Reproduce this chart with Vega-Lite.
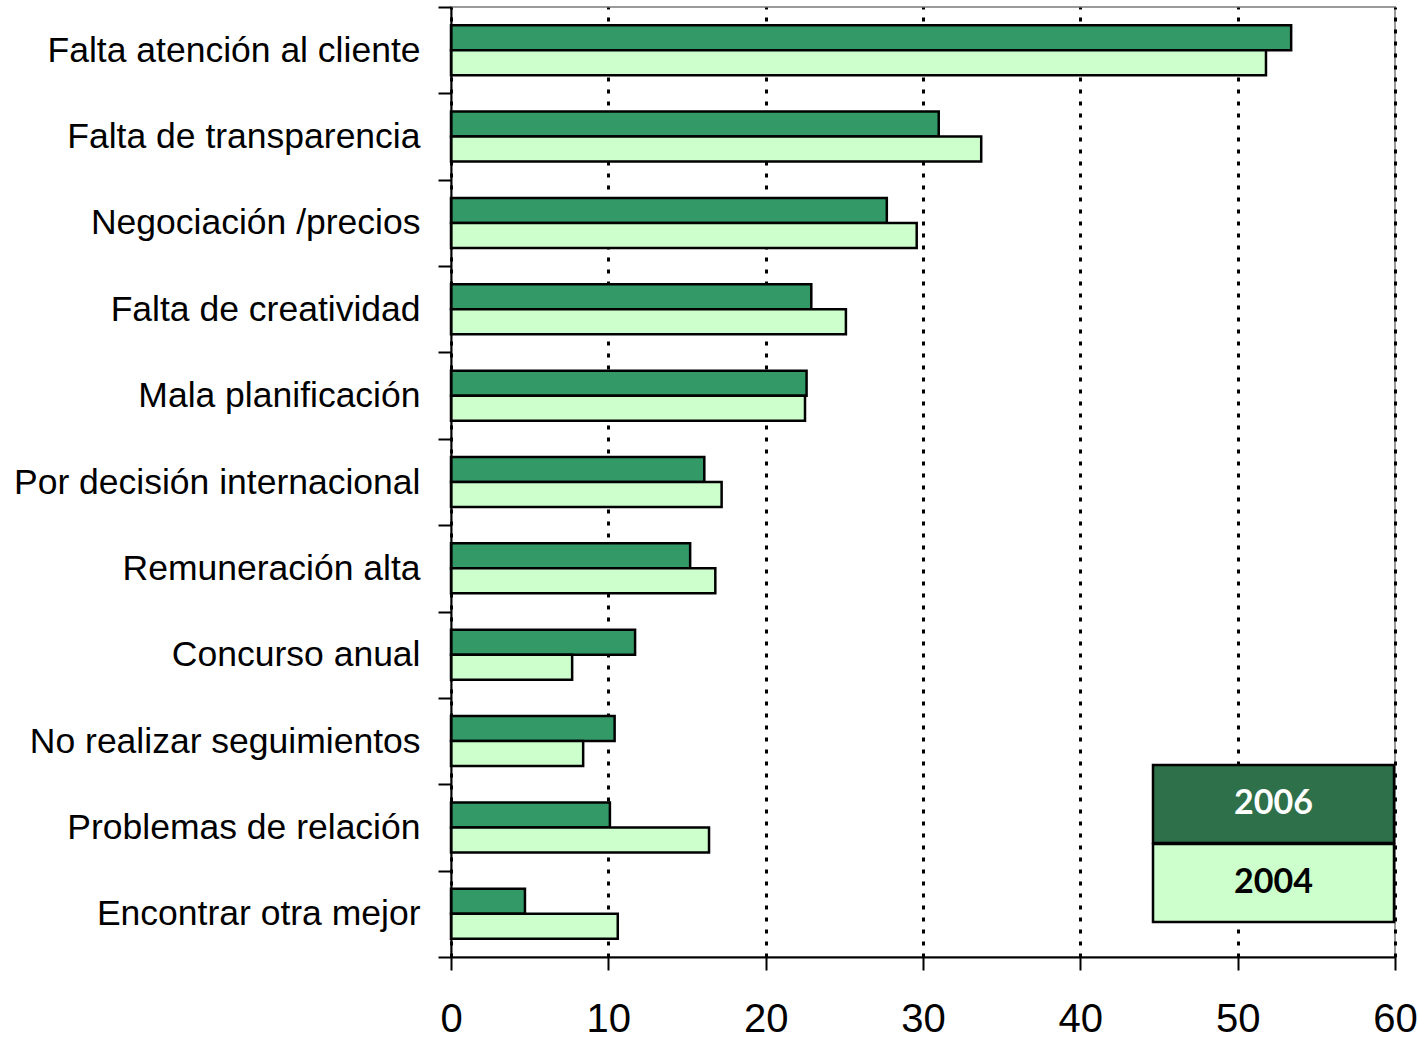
{
  "$schema": "https://vega.github.io/schema/vega-lite/v6.json",
  "width": 944,
  "height": 950,
  "autosize": {"type": "none"},
  "padding": {"left": 451, "top": 7, "right": 23, "bottom": 82},
  "background": "white",
  "config": {
    "view": {"stroke": "#9a9a9a", "strokeWidth": 2},
    "font": "Liberation Sans"
  },
  "data": {
    "values": [
      {"motivo": "Falta atención al cliente", "year": "2006", "value": 53.4},
      {"motivo": "Falta atención al cliente", "year": "2004", "value": 51.8},
      {"motivo": "Falta de transparencia", "year": "2006", "value": 31.0},
      {"motivo": "Falta de transparencia", "year": "2004", "value": 33.7},
      {"motivo": "Negociación /precios", "year": "2006", "value": 27.7},
      {"motivo": "Negociación /precios", "year": "2004", "value": 29.6},
      {"motivo": "Falta de creatividad", "year": "2006", "value": 22.9},
      {"motivo": "Falta de creatividad", "year": "2004", "value": 25.1},
      {"motivo": "Mala planificación", "year": "2006", "value": 22.6},
      {"motivo": "Mala planificación", "year": "2004", "value": 22.5},
      {"motivo": "Por decisión internacional", "year": "2006", "value": 16.1},
      {"motivo": "Por decisión internacional", "year": "2004", "value": 17.2},
      {"motivo": "Remuneración alta", "year": "2006", "value": 15.2},
      {"motivo": "Remuneración alta", "year": "2004", "value": 16.8},
      {"motivo": "Concurso anual", "year": "2006", "value": 11.7},
      {"motivo": "Concurso anual", "year": "2004", "value": 7.7},
      {"motivo": "No realizar seguimientos ", "year": "2006", "value": 10.4},
      {"motivo": "No realizar seguimientos ", "year": "2004", "value": 8.4},
      {"motivo": "Problemas de relación", "year": "2006", "value": 10.1},
      {"motivo": "Problemas de relación", "year": "2004", "value": 16.4},
      {"motivo": "Encontrar otra mejor", "year": "2006", "value": 4.7},
      {"motivo": "Encontrar otra mejor", "year": "2004", "value": 10.6}
    ]
  },
  "encoding": {
    "y": {
      "field": "motivo",
      "type": "nominal",
      "sort": [
        "Falta atención al cliente",
        "Falta de transparencia",
        "Negociación /precios",
        "Falta de creatividad",
        "Mala planificación",
        "Por decisión internacional",
        "Remuneración alta",
        "Concurso anual",
        "No realizar seguimientos ",
        "Problemas de relación",
        "Encontrar otra mejor"
      ],
      "scale": {"paddingInner": 0, "paddingOuter": 0},
      "axis": {
        "title": null,
        "zindex": 1,
        "labelFont": "Liberation Sans",
        "labelFontSize": 35.5,
        "labelColor": "black",
        "labelPadding": 18,
        "labelLimit": 0,
        "tickBand": "extent",
        "tickSize": 13,
        "tickColor": "black",
        "tickWidth": 2,
        "domainColor": "black",
        "domainWidth": 2,
        "grid": false
      }
    },
    "yOffset": {
      "field": "year",
      "type": "nominal",
      "sort": ["2006", "2004"],
      "scale": {"paddingInner": 0, "paddingOuter": 0.727}
    },
    "x": {
      "field": "value",
      "type": "quantitative",
      "scale": {"domain": [0, 60], "nice": false},
      "axis": {
        "title": null,
        "values": [0, 10, 20, 30, 40, 50, 60],
        "grid": true,
        "gridColor": "black",
        "gridDash": [4, 8],
        "gridWidth": 3,
        "labelFont": "Liberation Sans",
        "labelFontSize": 40,
        "labelColor": "black",
        "labelPadding": 29,
        "labelFlush": false,
        "labelOverlap": false,
        "tickSize": 13,
        "tickColor": "black",
        "tickWidth": 2,
        "domainColor": "black",
        "domainWidth": 2
      }
    }
  },
  "layer": [
    {
      "mark": {"type": "bar", "stroke": "black", "strokeWidth": 2.5},
      "encoding": {
        "fill": {
          "field": "year",
          "type": "nominal",
          "scale": {"domain": ["2006", "2004"], "range": ["#339966", "#CCFFCC"]},
          "legend": null
        }
      }
    },
    {
      "mark": {"type": "point", "filled": true, "size": 0, "opacity": 1, "strokeWidth": 0},
      "encoding": {
        "fill": {
          "field": "year",
          "type": "nominal",
          "scale": {"domain": ["2006", "2004"], "range": ["#2E7049", "#CCFFCC"]},
          "legend": {
            "title": null,
            "orient": "none",
            "legendX": 787.5,
            "legendY": 762,
            "padding": 0,
            "rowPadding": -10,
            "symbolType": "M-3.597,-1.164H3.597V1.164H-3.597Z",
            "symbolSize": 4489,
            "symbolOpacity": 1,
            "symbolStrokeColor": "black",
            "symbolStrokeWidth": 2.5,
            "labelFont": "Lato",
            "labelFontWeight": "bold",
            "labelFontSize": 34,
            "labelAlign": "center",
            "labelBaseline": "middle",
            "labelOffset": -35,
            "encode": {
              "labels": {"update": {"fill": {"signal": "datum.value === '2006' ? 'white' : 'black'"}}}
            }
          }
        }
      }
    }
  ],
  "resolve": {"scale": {"fill": "independent"}}
}
